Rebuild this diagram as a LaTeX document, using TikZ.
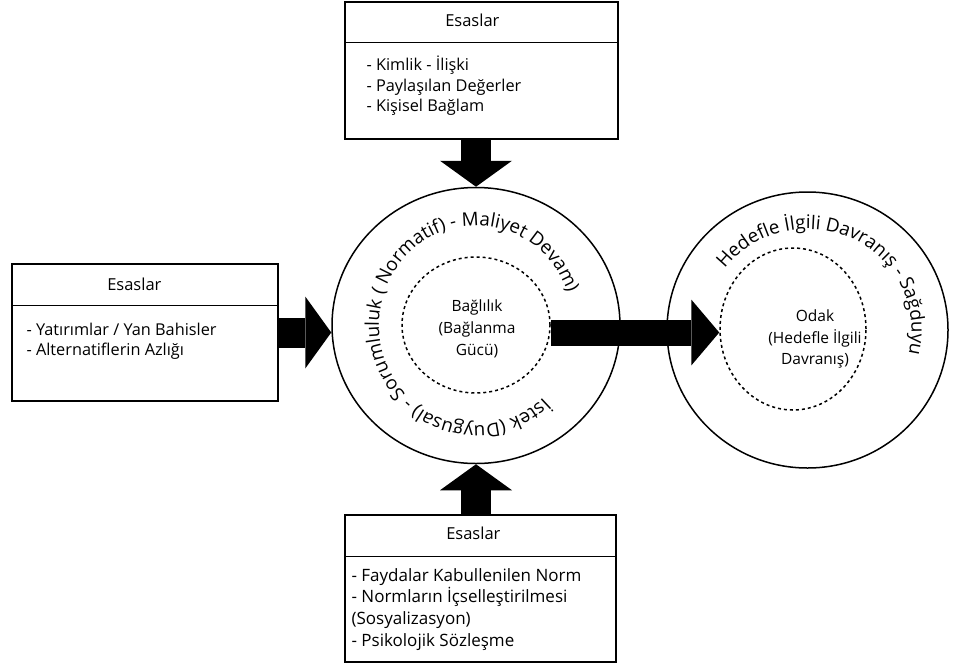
\documentclass[tikz,border=0pt]{standalone}
\usepackage{fontspec}
\setmainfont{Open Sans}
\usetikzlibrary{calc}
\usetikzlibrary{shapes.geometric}
\usetikzlibrary{arrows.meta}
\usetikzlibrary{decorations.text}
\tikzset{
  esasbox/.style={rectangle, draw, line width=1.3pt, inner sep=0pt},
  ring/.style={ellipse, draw, line width=1.5pt, inner sep=0pt},
  core/.style={ellipse, draw, line width=1.5pt, dash pattern=on 3pt off 3pt, inner sep=0pt},
  blockarrow/.style={draw, line width=30pt, -{Triangle[length=26pt, width=72pt, line width=0pt]}},
  headtext/.style={anchor=base, inner sep=0pt, font=\fontsize{16.5}{20}\selectfont},
  bodytext/.style={anchor=base west, align=left, inner sep=0pt, font=\fontsize{16.3}{20.3}\selectfont},
  coretext/.style={align=center, inner sep=0pt, font=\fontsize{15.5}{21.7}\selectfont},
  divider/.style={draw, line width=1.3pt}
  }

\begin{document}
\begin{tikzpicture}[x=1pt, y=-1pt]
	% Frame
	\useasboundingbox (0,0) rectangle (955,664);

	% Circles
	\node[ring, minimum width=288pt, minimum height=276pt] (commit) at (476,325.5) {};
	\node[core, minimum width=148pt, minimum height=136pt] (bond) at (476,325) {};
	\node[ring, minimum width=281pt, minimum height=276pt] (focus) at (807.5,330) {};
	\node[core, minimum width=146pt, minimum height=162pt] (target) at (793,329) {};
	\node[coretext] (bondtext) at (477,329) {Bağlılık\\(Bağlanma\\Gücü)};
	\node[coretext] (targettext) at (815,339) {Odak\\(Hedefle İlgili\\Davranış)};

	% Circle labels
	\begin{scope}[y=1pt]
	\path[decorate, decoration={text along path, text align=center,
	  text={|\fontsize{18.8}{19}\selectfont|İstek (Duygusal) - Sorumluluk ( Normatif) - Maliyet Devam)}}]
	  (commit.center) ++(340:97 and 100) arc[start angle=340, end angle=-7, x radius=97, y radius=100];
	\path[decorate, decoration={text along path, text align=center,
	  text={|\fontsize{18.8}{19}\selectfont|Hedefle İlgili Davranış - Sağduyu}}]
	  (focus.center) ++(170:104 and 101) arc[start angle=170, end angle=-41, x radius=104, y radius=101];
	\end{scope}

	% Boxes
	\node[esasbox, minimum width=273pt, minimum height=137pt] (topbox) at (481.5,70.5) {};
	\node[esasbox, minimum width=266pt, minimum height=137pt] (leftbox) at (145,332.5) {};
	\node[esasbox, minimum width=271pt, minimum height=147pt] (bottombox) at (480.5,588.5) {};
	\draw[divider] ($(topbox.north west)+(0,41)$) -- ($(topbox.north east)+(0,41)$);
	\draw[divider] ($(leftbox.north west)+(0,42)$) -- ($(leftbox.north east)+(0,42)$);
	\draw[divider] ($(bottombox.north west)+(0,42)$) -- ($(bottombox.north east)+(0,42)$);

	% Box texts
	\node[headtext] (tophead) at ($(topbox.north west)+(128,25.5)$) {Esaslar};
	\node[bodytext] (topbody) at ($(topbox.north west)+(22,110)$)
	  {- Kimlik - İlişki\\- Paylaşılan Değerler\\- Kişisel Bağlam};
	\node[headtext] (lefthead) at ($(leftbox.north west)+(123,27.5)$) {Esaslar};
	\node[bodytext] (leftbody) at ($(leftbox.north west)+(15,92)$)
	  {- Yatırımlar / Yan Bahisler\\- Alternatiflerin Azlığı};
	\node[headtext] (bottomhead) at ($(bottombox.north west)+(129,25)$) {Esaslar};
	\node[bodytext, font=\fontsize{17}{21.7}\selectfont] (bottombody) at ($(bottombox.north west)+(7,132)$)
	  {- Faydalar Kabullenilen Norm\\- Normların İçselleştirilmesi\\(Sosyalizasyon)\\- Psikolojik Sözleşme};

	% Arrows
	\draw[blockarrow] (commit.north |- topbox.south) -- (commit.north);
	\draw[blockarrow] (commit.south |- bottombox.north) -- (commit.south);
	\draw[blockarrow] (leftbox.east) -- (leftbox.east -| commit.west);
	\draw[blockarrow, line width=26pt, -{Triangle[length=28pt, width=66pt, line width=0pt]}]
	  (bond.east |- leftbox.east) -- (target.west |- leftbox.east);
\end{tikzpicture}
\end{document}
